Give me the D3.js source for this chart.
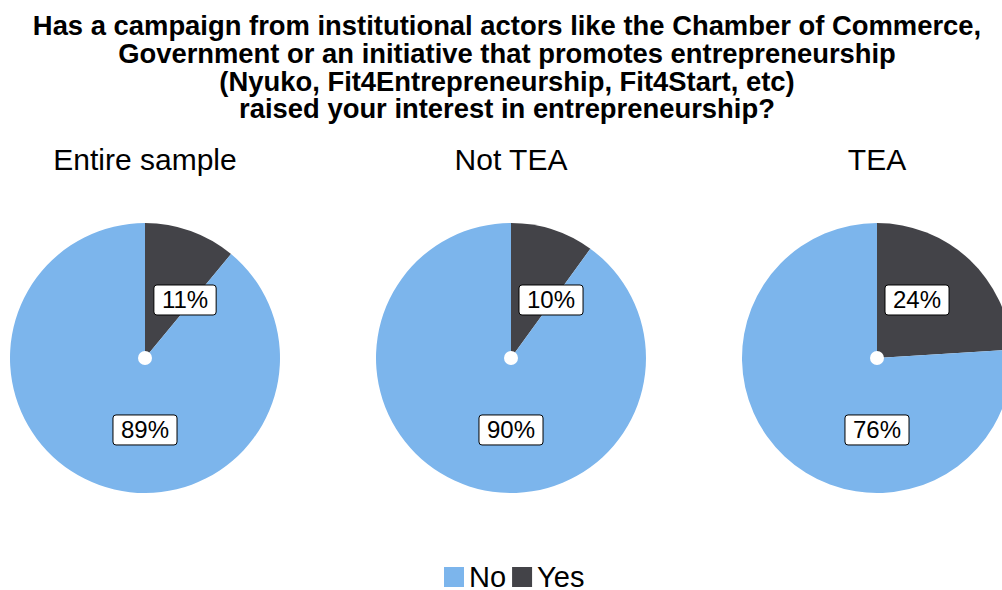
<!DOCTYPE html>
<html>
<head>
<meta charset="utf-8">
<script src="https://cdn.jsdelivr.net/npm/d3@7"></script>
<style>
  html, body { margin: 0; padding: 0; background: #fff; }
  svg { display: block; font-family: "Liberation Sans", Arial, sans-serif; }
</style>
</head>
<body>
<svg id="chart" width="1002" height="590"></svg>
<script>
// Survey answers, in percent, for each respondent group
const groups = ["Entire sample", "Not TEA", "TEA"];
const categories = ["Yes", "No"];
const yesValues = [11, 10, 24];
const noValues = [89, 90, 76];
const legendOrder = ["No", "Yes"];
const titleLines = [
  "Has a campaign from institutional actors like the Chamber of Commerce,",
  "Government or an initiative that promotes entrepreneurship",
  "(Nyuko, Fit4Entrepreneurship, Fit4Start, etc)",
  "raised your interest in entrepreneurship?"
];

const W = 1002, H = 590;
const svg = d3.select("#chart");

const color = d3.scaleOrdinal()
  .domain(["No", "Yes"])
  .range(["#7cb5ec", "#434348"]);

// Title
const title = svg.append("g").attr("font-weight", "bold").attr("font-size", 27.4)
  .attr("text-anchor", "middle").attr("fill", "#000");
titleLines.forEach((t, i) => {
  title.append("text").attr("x", 507).attr("y", 35 + i * 27.8).text(t);
});

// One pie per group
const cx = d3.scalePoint().domain(groups).range([145, 877]);
const cy = 358, R = 135;

const pie = d3.pie().sort(null).value(d => d.value);
const arc = d3.arc().innerRadius(0).outerRadius(R);

// label anchor per category: angle (deg, clockwise from 12 o'clock) and radius fraction
const labelAnchor = { Yes: { a: 34.6, f: 0.522 }, No: { a: 180, f: 0.533 } };

groups.forEach((g, gi) => {
  const data = [
    { cat: "Yes", value: yesValues[gi] },
    { cat: "No", value: noValues[gi] }
  ];
  const grp = svg.append("g").attr("transform", `translate(${cx(g)},${cy})`);

  grp.selectAll("path.slice").data(pie(data)).join("path")
    .attr("class", "slice")
    .attr("d", arc)
    .attr("fill", d => color(d.data.cat));

  grp.append("circle").attr("r", 7).attr("fill", "#fff");

  data.forEach(d => {
    const la = labelAnchor[d.cat];
    const ang = la.a * Math.PI / 180;
    const lx = Math.sin(ang) * R * la.f;
    const ly = -Math.cos(ang) * R * la.f;
    const lg = grp.append("g").attr("transform", `translate(${lx},${ly})`);
    const txt = lg.append("text")
      .attr("text-anchor", "middle")
      .attr("y", 8.5)
      .attr("font-size", 24)
      .attr("fill", "#000")
      .text(d.value + "%");
    const w = txt.node().getComputedTextLength() + 16;
    lg.insert("rect", "text")
      .attr("x", -w / 2).attr("y", -15)
      .attr("width", w).attr("height", 30)
      .attr("rx", 3).attr("ry", 3)
      .attr("fill", "#fff")
      .attr("stroke", "#000")
      .attr("stroke-width", 1);
  });

  svg.append("text")
    .attr("x", cx(g)).attr("y", 170)
    .attr("text-anchor", "middle")
    .attr("font-size", 30)
    .attr("fill", "#000")
    .text(g);
});

// Legend
const legend = svg.append("g");
let lxPos = 444;
legendOrder.forEach(c => {
  legend.append("rect").attr("x", lxPos).attr("y", 567)
    .attr("width", 20).attr("height", 20).attr("fill", color(c));
  const t = legend.append("text").attr("x", lxPos + 25).attr("y", 587)
    .attr("font-size", 29).attr("fill", "#000").text(c);
  lxPos += 25 + t.node().getComputedTextLength() + 6;
});
</script>
</body>
</html>
